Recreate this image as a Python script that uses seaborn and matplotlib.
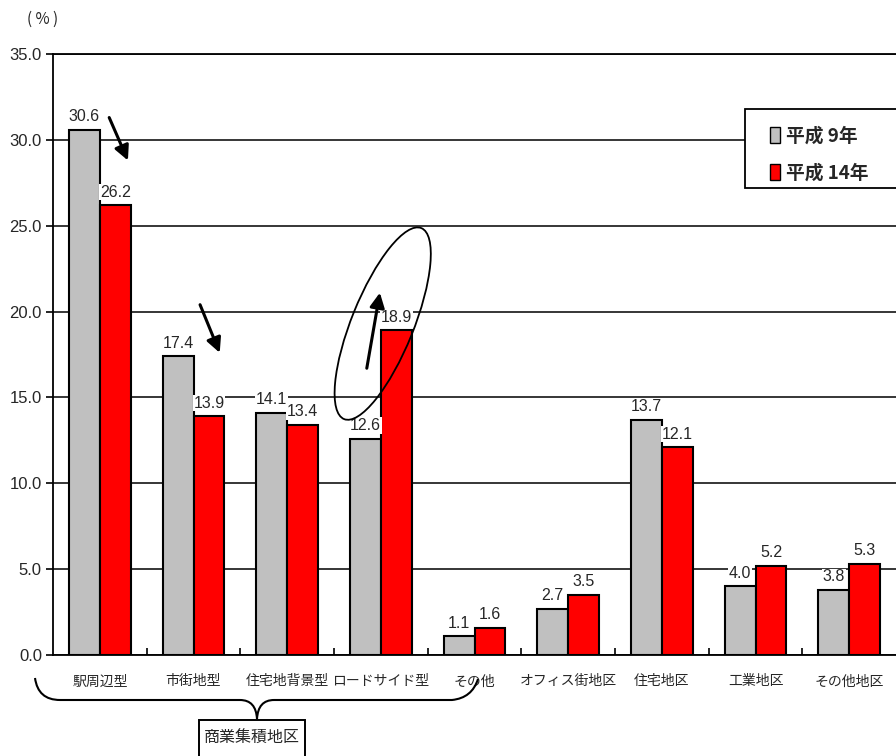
import matplotlib
matplotlib.use("Agg")
import matplotlib.pyplot as plt
import matplotlib.font_manager as fm
from matplotlib.patches import Ellipse, PathPatch, Patch, Rectangle
from matplotlib.path import Path
from matplotlib.transforms import ScaledTranslation
import seaborn as sns
import pandas as pd

# ---- data ----
categories = ['駅周辺型', '市街地型', '住宅地背景型', 'ロードサイド型', 'その他',
              'オフィス街地区', '住宅地区', '工業地区', 'その他地区']
series_names = ['平成 9年', '平成 14年']
h9 = [30.6, 17.4, 14.1, 12.6, 1.1, 2.7, 13.7, 4.0, 3.8]
h14 = [26.2, 13.9, 13.4, 18.9, 1.6, 3.5, 12.1, 5.2, 5.3]
yticks = [0, 5, 10, 15, 20, 25, 30, 35]
colors = ['#C0C0C0', '#FF0000']

df = pd.DataFrame({
    'category': categories * 2,
    'series': [series_names[0]] * len(categories) + [series_names[1]] * len(categories),
    'value': h9 + h14,
})

sns.set_theme(style='white')
available = {f.name for f in fm.fontManager.ttflist}
narrow = next((n for n in ['Liberation Sans Narrow', 'DejaVu Sans Condensed', 'Liberation Sans']
               if n in available), 'DejaVu Sans')
jp = ['Noto Sans CJK JP', 'DejaVu Sans']
plt.rcParams['font.family'] = jp

fig = plt.figure(figsize=(8.96, 7.56), dpi=100)
ax = fig.add_axes([53 / 896, 1 - 655 / 756, 1 - 53 / 896, (655 - 54) / 756])

sns.barplot(data=df, x='category', y='value', hue='series', order=categories,
            hue_order=series_names, palette=colors, width=0.66, gap=0,
            edgecolor='black', linewidth=1.5, saturation=1, ax=ax, legend=False,
            zorder=3)

ax.set_ylim(0, 35)
ax.set_xlim(-0.5, len(categories) - 0.5)
ax.set_yticks(yticks)
ax.set_yticklabels([f'{v:.1f}' for v in yticks], family=[narrow, 'DejaVu Sans'], fontsize=12)
ax.yaxis.grid(True, color='black', linewidth=1.1, zorder=0)
ax.set_axisbelow(True)
ax.set_xlabel('')
ax.set_ylabel('')
ax.tick_params(axis='y', direction='out', length=5, width=1.2, color='black', pad=3, left=True)
ax.tick_params(axis='x', which='major', length=0, pad=14, labelsize=10)
ax.set_xticks(range(len(categories)))
ax.set_xticklabels(categories, fontsize=10)
ax.set_xticks([i + 0.5 for i in range(len(categories) - 1)], minor=True)
ax.tick_params(axis='x', which='minor', direction='in', length=5, width=1.2,
               color='black', bottom=True)
for side in ['left', 'bottom', 'top']:
    ax.spines[side].set_color('black')
    ax.spines[side].set_linewidth(1.3)
ax.spines['right'].set_visible(False)

# value labels
for cont, vals in zip(ax.containers, [h9, h14]):
    ax.bar_label(cont, labels=[f'{v:.1f}' for v in vals], padding=4, fontsize=11.5,
                 family=[narrow, 'DejaVu Sans'], zorder=5,
                 bbox=dict(facecolor='white', edgecolor='none', pad=0.5))

# legend box reaching the right edge, legend entries on top of it
ax.add_patch(Rectangle((745 / 896, 1 - 188 / 756), 160 / 896, 79 / 756,
                       transform=fig.transFigure, facecolor='white', edgecolor='black',
                       linewidth=1.3, zorder=6, clip_on=False))
handles = [Patch(facecolor=c, edgecolor='black', linewidth=1.0) for c in colors]
leg = ax.legend(handles, series_names, loc='upper left', bbox_to_anchor=(0.84, 0.895),
                frameon=False, handlelength=0.5, handleheight=0.9,
                handletextpad=0.35, labelspacing=0.95, borderpad=0.0,
                prop=fm.FontProperties(family=jp, weight='bold', size=13.5))
leg.set_zorder(7)

# trend arrows
arrow = dict(arrowstyle='-|>', color='black', lw=2.2, mutation_scale=22, shrinkA=0, shrinkB=0)
ax.annotate('', xy=(0.30, 28.8), xytext=(0.10, 31.3), arrowprops=arrow, zorder=6)
ax.annotate('', xy=(1.28, 17.6), xytext=(1.07, 20.4), arrowprops=arrow, zorder=6)
ax.annotate('', xy=(2.99, 21.1), xytext=(2.85, 16.7), arrowprops=arrow, zorder=6)

# ellipse around the roadside pair
ell = Ellipse((0, 0), width=2.06, height=0.62, angle=68, facecolor='none',
              edgecolor='black', linewidth=1.3,
              transform=fig.dpi_scale_trans + ScaledTranslation(3.02, 19.3, ax.transData),
              zorder=6, clip_on=False)
ax.add_patch(ell)

# unit label
fig.text(43 / 896, 1 - 19 / 756, '( % )', ha='center', va='center', fontsize=11)

# brace grouping the commercial district types
def fx(px):
    return px / 896

def fy(py):
    return 1 - py / 756

verts = [
    (fx(35), fy(678)), (fx(38), fy(700)), (fx(60), fy(700)),
    (fx(240), fy(700)), (fx(256), fy(700)), (fx(257), fy(719)),
    (fx(258), fy(700)), (fx(274), fy(700)),
    (fx(452), fy(700)), (fx(472), fy(698)), (fx(478), fy(679)),
]
codes = [Path.MOVETO, Path.CURVE3, Path.CURVE3, Path.LINETO, Path.CURVE3, Path.CURVE3,
         Path.CURVE3, Path.CURVE3, Path.LINETO, Path.CURVE3, Path.CURVE3]
fig.add_artist(PathPatch(Path(verts, codes), facecolor='none', edgecolor='black',
                         linewidth=1.5, transform=fig.transFigure))

fig.add_artist(Rectangle((fx(199), fy(770)), 106 / 896, 50 / 756, transform=fig.transFigure,
                         facecolor='white', edgecolor='black', linewidth=1.4))
fig.text(fx(252), fy(738), '商業集積地区', ha='center', va='center', fontsize=11.5)

fig.savefig('out.png', dpi=100)
